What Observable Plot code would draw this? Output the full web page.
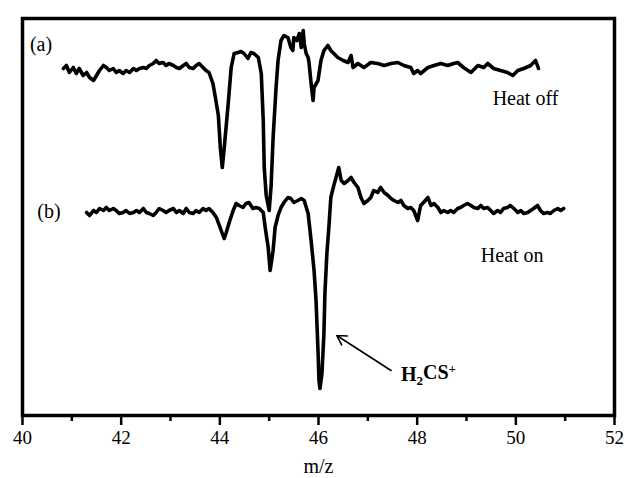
<!DOCTYPE html>
<html>
<head>
<meta charset="utf-8">
<script src="https://cdn.jsdelivr.net/npm/d3@7"></script>
<script src="https://cdn.jsdelivr.net/npm/@observablehq/plot@0.6"></script>
<style>
  html, body { margin: 0; padding: 0; background: #fff; }
  #chart svg { display: block; }
</style>
</head>
<body>
<div id="chart"></div>
<script>
// Trace (a): heat off — m/z and signal (arbitrary units)
const mzA = [40.83,40.89,40.95,41.03,41.09,41.15,41.23,41.30,41.36,41.44,41.50,41.56,41.64,41.70,41.76,41.84,41.90,41.96,42.04,42.10,42.17,42.25,42.31,42.37,42.45,42.51,42.57,42.65,42.71,42.77,42.85,42.91,42.97,43.06,43.12,43.18,43.26,43.32,43.38,43.46,43.52,43.58,43.66,43.72,43.78,43.86,43.91,43.97,44.01,44.05,44.09,44.17,44.23,44.29,44.37,44.43,44.49,44.57,44.63,44.69,44.78,44.84,44.88,44.90,44.94,45.00,45.04,45.08,45.14,45.18,45.24,45.30,45.38,45.44,45.48,45.50,45.56,45.61,45.65,45.69,45.71,45.75,45.79,45.81,45.85,45.89,45.91,45.99,46.05,46.11,46.19,46.25,46.31,46.39,46.50,46.60,46.66,46.70,46.80,46.92,47.06,47.20,47.33,47.47,47.61,47.73,47.87,47.93,48.01,48.07,48.22,48.34,48.48,48.62,48.74,48.82,48.94,49.09,49.23,49.35,49.43,49.55,49.69,49.83,49.94,50.04,50.16,50.30,50.40,50.46];
const sigA = [347,350,343,348,342,347,340,343,338,335,340,345,350,348,345,347,343,345,342,345,343,347,345,347,348,347,350,352,355,352,353,350,352,350,348,347,350,352,348,347,350,352,348,345,343,332,318,300,268,248,268,312,348,362,363,364,362,357,363,362,358,342,295,248,220,205,230,278,328,355,375,380,378,368,365,378,375,382,368,385,372,362,358,352,332,315,328,335,355,365,370,365,362,358,355,353,360,348,352,348,353,352,350,352,353,350,348,342,345,342,348,350,352,350,352,353,348,343,350,348,352,347,345,343,340,345,347,350,355,347];

// Trace (b): heat on
const mzB = [41.30,41.36,41.44,41.50,41.56,41.64,41.70,41.76,41.84,41.90,41.96,42.04,42.10,42.17,42.25,42.31,42.37,42.45,42.51,42.57,42.65,42.71,42.77,42.85,42.91,42.97,43.06,43.12,43.18,43.26,43.32,43.38,43.46,43.52,43.58,43.66,43.72,43.78,43.86,43.93,43.99,44.05,44.09,44.13,44.19,44.27,44.33,44.39,44.47,44.53,44.59,44.67,44.73,44.80,44.88,44.92,44.98,45.02,45.08,45.12,45.18,45.24,45.30,45.38,45.44,45.50,45.58,45.65,45.71,45.79,45.85,45.91,45.95,45.99,46.01,46.03,46.07,46.11,46.13,46.17,46.21,46.25,46.31,46.35,46.41,46.46,46.52,46.60,46.66,46.72,46.80,46.86,46.92,47.00,47.06,47.12,47.20,47.26,47.33,47.41,47.47,47.53,47.61,47.67,47.73,47.81,47.87,47.93,48.01,48.07,48.13,48.22,48.28,48.34,48.42,48.48,48.54,48.62,48.68,48.74,48.82,48.88,48.94,49.02,49.09,49.15,49.23,49.29,49.35,49.43,49.49,49.55,49.63,49.69,49.75,49.83,49.89,49.96,50.04,50.10,50.16,50.24,50.30,50.36,50.44,50.50,50.56,50.64,50.70,50.77,50.85,50.91,50.97];
const sigB = [203,200,205,203,207,205,208,205,207,205,202,203,205,202,203,205,203,207,203,202,200,203,207,205,203,205,207,203,205,202,207,203,202,205,203,207,205,207,203,198,190,182,177,183,193,205,212,210,208,212,213,207,208,207,203,188,168,145,165,188,200,208,213,218,217,213,215,217,215,202,175,145,115,65,35,27,42,82,122,162,188,218,230,237,248,235,232,235,238,233,228,218,212,215,218,225,223,228,223,220,217,215,213,215,210,207,208,205,195,210,213,218,210,212,208,203,205,203,205,203,207,208,210,212,210,208,207,210,207,208,205,202,205,203,207,208,210,207,203,205,202,203,205,207,210,205,202,203,202,205,207,205,207];

// Axis ticks
const majorTicks = [40, 42, 44, 46, 48, 50, 52];
const minorTicks = [41, 43, 45, 47, 49, 51];

// Annotations
const labelTexts = ["(a)", "(b)", "Heat off", "Heat on"];
const labelMz = [40.15, 40.3, 49.53, 49.29];
const labelSig = [371, 204, 317, 160];
const ionText = "H2CS+";
const ionMz = 47.67, ionSig = 41;
const arrowFrom = [47.47, 45];
const arrowTo = [46.37, 80];

const traceA = mzA.map((m, i) => ({mz: m, s: sigA[i]}));
const traceB = mzB.map((m, i) => ({mz: m, s: sigB[i]}));
const labels = labelTexts.map((t, i) => ({t, mz: labelMz[i], s: labelSig[i]}));

const font = "'Liberation Serif', 'Times New Roman', serif";

const chart = Plot.plot({
  width: 629,
  height: 478,
  marginLeft: 22,
  marginRight: 15,
  marginTop: 18,
  marginBottom: 63,
  style: {fontFamily: font, fontSize: "19px", background: "#fff", color: "#000"},
  x: {domain: [40, 52], label: null},
  y: {domain: [0, 397], axis: null},
  marks: [
    Plot.axisX({ticks: minorTicks, tickSize: 6, tickFormat: () => "", strokeWidth: 2.5, label: null}),
    Plot.axisX({ticks: majorTicks, tickSize: 10, tickPadding: 5, strokeWidth: 2.5, fontSize: 19,
      label: "m/z", labelAnchor: "center", labelArrow: "none", labelOffset: 57}),
    Plot.line(traceA, {x: "mz", y: "s", stroke: "#000", strokeWidth: 3.6, strokeLinejoin: "round"}),
    Plot.line(traceB, {x: "mz", y: "s", stroke: "#000", strokeWidth: 3.6, strokeLinejoin: "round"}),
    Plot.text(labels, {x: "mz", y: "s", text: "t", textAnchor: "start", fontSize: 20, fill: "#000"}),
    Plot.arrow([{x1: arrowFrom[0], y1: arrowFrom[1], x2: arrowTo[0], y2: arrowTo[1]}],
      {x1: "x1", y1: "y1", x2: "x2", y2: "y2", stroke: "#000", strokeWidth: 1.6, headLength: 10}),
    Plot.text([{t: ionText, mz: ionMz, s: ionSig}], {x: "mz", y: "s", text: "t", textAnchor: "start",
      fontSize: 20, fontWeight: "bold", fill: "#000", className: "ion-label"}),
    Plot.frame({stroke: "#000", strokeWidth: 3.5})
  ]
});

// Enforce axis text sizes
d3.select(chart).selectAll("g[aria-label='x-axis tick label']").attr("font-size", 19).selectAll("text").attr("font-size", 19);
d3.select(chart).selectAll("g[aria-label='x-axis label']").attr("font-size", 20).selectAll("text").attr("font-size", 20);

// Render subscript/superscript in the ion label
d3.select(chart).selectAll(".ion-label text").each(function() {
  const t = d3.select(this);
  t.text(null);
  t.append("tspan").text("H");
  t.append("tspan").attr("font-size", "13").attr("dy", "0.3em").text("2");
  t.append("tspan").attr("dy", "-0.3em").text("CS");
  t.append("tspan").attr("font-size", "13").attr("dy", "-0.45em").text("+");
});

document.getElementById("chart").appendChild(chart);
</script>
</body>
</html>
